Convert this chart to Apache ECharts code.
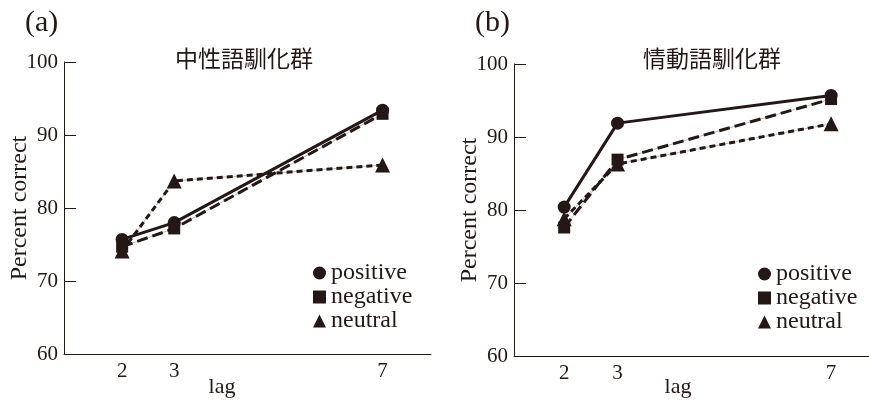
<!DOCTYPE html>
<html>
<head>
<meta charset="utf-8">
<script src="https://cdn.jsdelivr.net/npm/echarts@6/dist/echarts.min.js"></script>
<style>
  html, body { margin: 0; padding: 0; background: #fff; }
  #chart { width: 869px; height: 401px; }
</style>
</head>
<body>
<div id="chart"></div>
<script>
// lag values on the x axis and the ticks that get a label
var lags = [2, 3, 7];
var lagTicks = [2, 3, 7];
var seriesNames = ['positive', 'negative', 'neutral'];

// (a) 中性語馴化群
var posA = [75.7, 78.0, 93.4];
var negA = [74.7, 77.2, 92.9];
var neuA = [74.1, 83.7, 85.9];

// (b) 情動語馴化群
var posB = [80.4, 91.9, 95.7];
var negB = [77.6, 86.9, 95.2];
var neuB = [78.8, 86.3, 91.8];

var serif = 'Liberation Serif';
var cjk = 'Noto Sans CJK JP';
var ink = '#231815';

var styles = {
    positive: { symbol: 'circle', size: 13, dash: 'solid', z: 5 },
    negative: { symbol: 'rect', size: 12, dash: [11, 5], z: 4 },
    neutral: { symbol: 'triangle', size: 15, dash: [6, 4], z: 3 }
};

function pairs(values) {
    return lags.map(function(l, i) { return [l, values[i]]; });
}

function makeSeries(name, values, idx) {
    var s = styles[name];
    var out = [];
    if (s.dash !== 'solid') {
        // thin grey guide under the dashed lines
        out.push({
            type: 'line', name: name + '_guide', xAxisIndex: idx, yAxisIndex: idx,
            data: pairs(values), symbol: 'none', silent: true, z: 2,
            lineStyle: { color: '#bdbdbd', width: 1 }
        });
    }
    out.push({
        type: 'line', name: name, xAxisIndex: idx, yAxisIndex: idx,
        data: pairs(values), symbol: s.symbol, symbolSize: s.size, z: s.z,
        itemStyle: { color: ink },
        lineStyle: { color: ink, width: 3, type: s.dash }
    });
    return out;
}

function yAxisFor(idx) {
    return {
        type: 'value', gridIndex: idx, min: 60, max: 100, interval: 10,
        name: 'Percent correct', nameLocation: 'middle', nameGap: 32, nameMoveOverlap: false,
        nameTextStyle: { fontFamily: serif, fontSize: 24, color: ink },
        axisLine: { show: true, lineStyle: { color: ink, width: 1 } },
        axisTick: { show: true, inside: true, length: 12, lineStyle: { color: ink } },
        axisLabel: { fontFamily: serif, fontSize: 21, color: ink, margin: 6 },
        splitLine: { show: false }
    };
}

function xAxisFor(idx, min, max) {
    return {
        type: 'value', gridIndex: idx, min: min, max: max,
        axisLine: { show: true, lineStyle: { color: ink, width: 1 } },
        axisTick: { show: false },
        axisLabel: { customValues: lagTicks, fontFamily: serif, fontSize: 21, color: ink, margin: 7 },
        splitLine: { show: false }
    };
}

function legendFor(left, top) {
    return {
        orient: 'vertical', left: left, top: top, itemGap: 0,
        itemWidth: 13, itemHeight: 13, selectedMode: false,
        textStyle: { fontFamily: serif, fontSize: 24, color: ink, lineHeight: 24 },
        data: [
            { name: 'positive', icon: 'circle' },
            { name: 'negative', icon: 'rect' },
            { name: 'neutral', icon: 'triangle' }
        ]
    };
}

function label(text, left, top, font, size, align) {
    return {
        text: text, left: left, top: top, textAlign: align || 'left', padding: 0,
        textStyle: { fontFamily: font, fontSize: size, fontWeight: 'normal', color: ink }
    };
}

var series = []
    .concat(makeSeries('neutral', neuA, 0))
    .concat(makeSeries('negative', negA, 0))
    .concat(makeSeries('positive', posA, 0))
    .concat(makeSeries('neutral', neuB, 1))
    .concat(makeSeries('negative', negB, 1))
    .concat(makeSeries('positive', posB, 1));

var chart = echarts.init(document.getElementById('chart'));
var option = {
    animation: false,
    backgroundColor: '#fff',
    title: [
        label('(a)', 25, 8, serif, 30),
        label('中性語馴化群', 244, 47, cjk, 23, 'center'),
        label('lag', 222, 376, serif, 22, 'center'),
        label('(b)', 475, 8, serif, 30),
        label('情動語馴化群', 712, 47, cjk, 23, 'center'),
        label('lag', 678, 376, serif, 22, 'center')
    ],
    grid: [
        { left: 64, top: 62, width: 367, height: 292 },
        { left: 514, top: 64, width: 355, height: 292 }
    ],
    xAxis: [xAxisFor(0, 0.884, 7.93), xAxisFor(1, 1.06, 7.71)],
    yAxis: [yAxisFor(0), yAxisFor(1)],
    legend: [legendFor(308, 256), legendFor(753, 257)],
    series: series
};
chart.setOption(option);
</script>
</body>
</html>
